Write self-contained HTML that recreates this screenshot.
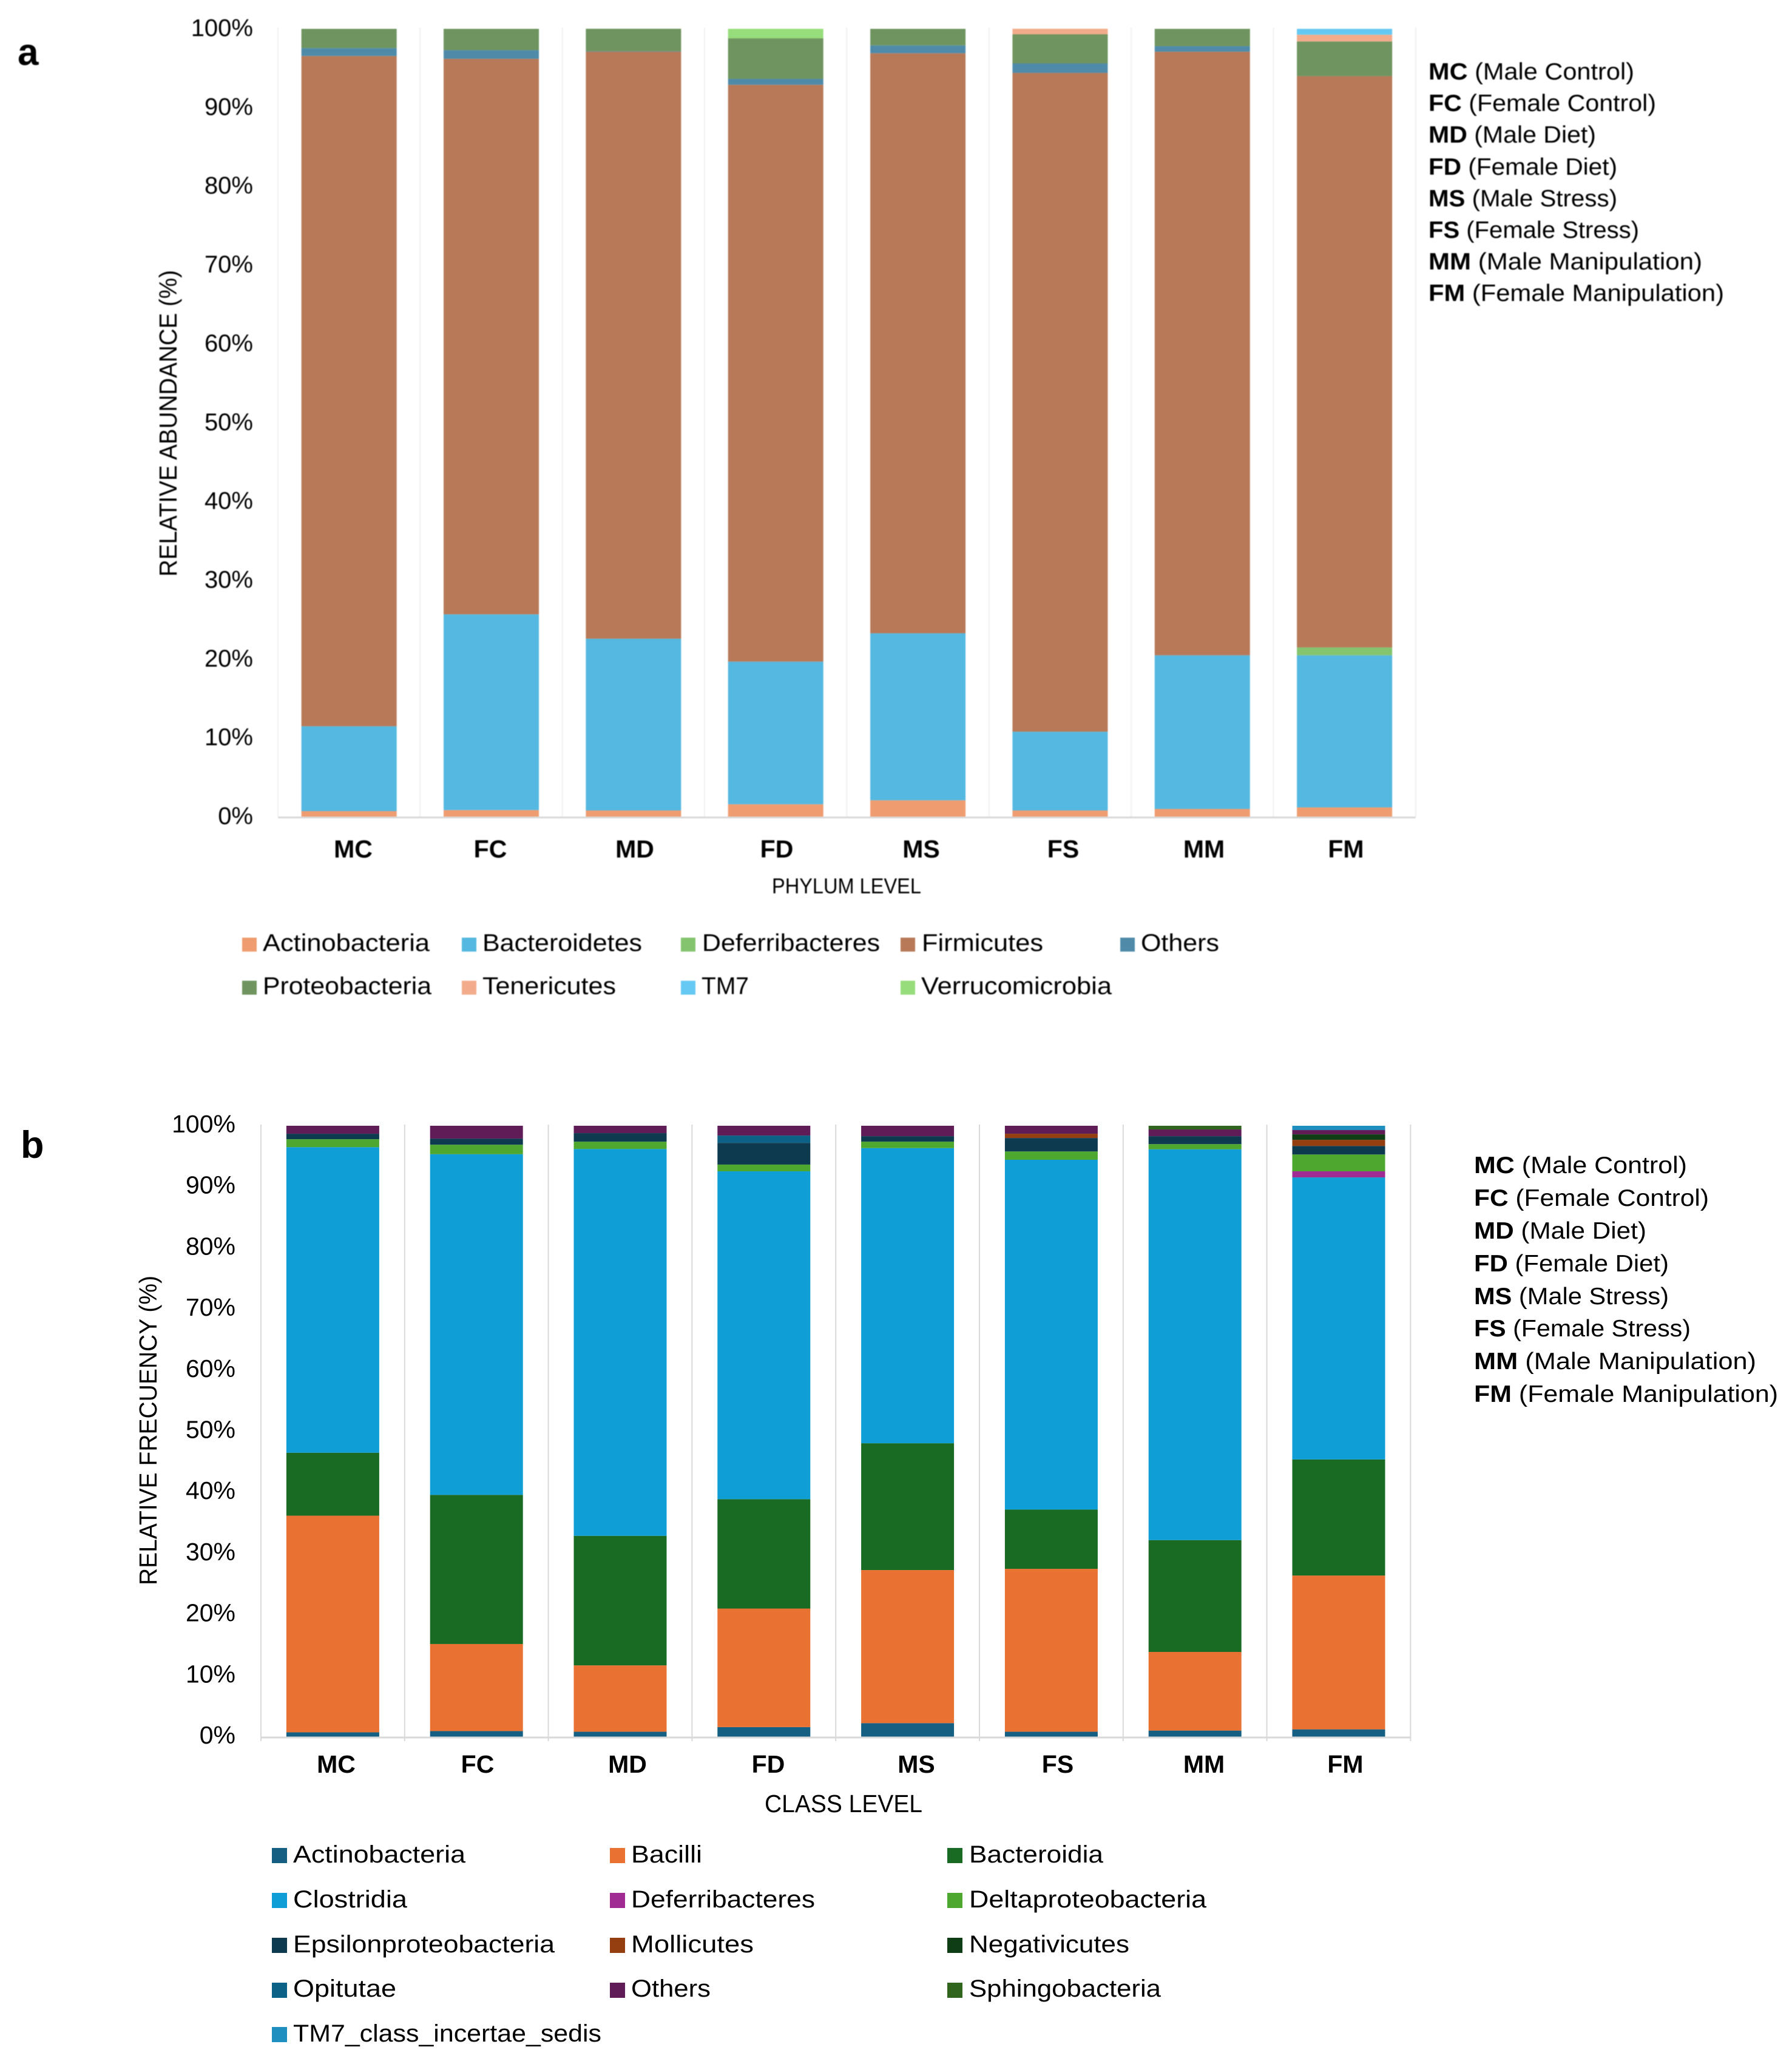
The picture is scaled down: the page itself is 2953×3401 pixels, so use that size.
<!DOCTYPE html>
<html lang="en">
<head>
<meta charset="utf-8">
<title>Relative abundance at phylum and class level</title>
<style>
html,body{margin:0;padding:0;background:#fff;}
svg{display:block;}
text{font-family:"Liberation Sans",sans-serif;fill:#000;}
.tick{font-size:40px;}
.cat{font-size:41px;font-weight:bold;}
.leg{font-size:40px;}
.key{font-size:39px;}
.key tspan{font-weight:bold;}
.soft{filter:blur(0.9px);}
</style>
</head>
<body>
<svg id="figure" xmlns="http://www.w3.org/2000/svg" width="2953" height="3401" viewBox="0 0 2953 3401">
<rect width="2953" height="3401" fill="#fff"/>

<g id="panelA" class="soft">
<text x="29" y="107" font-size="62" font-weight="bold">a</text>
<g id="plotA"></g>
<text transform="translate(291,950) rotate(-90)" font-size="41" textLength="505" lengthAdjust="spacingAndGlyphs">RELATIVE ABUNDANCE (%)</text>
<g>
<text class="cat" x="582" y="1413" text-anchor="middle">MC</text>
<text class="cat" x="808" y="1413" text-anchor="middle">FC</text>
<text class="cat" x="1046" y="1413" text-anchor="middle">MD</text>
<text class="cat" x="1280" y="1413" text-anchor="middle">FD</text>
<text class="cat" x="1518" y="1413" text-anchor="middle">MS</text>
<text class="cat" x="1752" y="1413" text-anchor="middle">FS</text>
<text class="cat" x="1984" y="1413" text-anchor="middle">MM</text>
<text class="cat" x="2218" y="1413" text-anchor="middle">FM</text>
</g>
<text x="1272" y="1472" font-size="35" textLength="246" lengthAdjust="spacingAndGlyphs">PHYLUM LEVEL</text>
<g>
<g><rect x="399" y="1545" width="24" height="23" fill="#ef9c70"/><text class="leg" x="433" y="1567" textLength="275" lengthAdjust="spacingAndGlyphs">Actinobacteria</text></g>
<g><rect x="761" y="1545" width="24" height="23" fill="#55b8e0"/><text class="leg" x="795" y="1567" textLength="263" lengthAdjust="spacingAndGlyphs">Bacteroidetes</text></g>
<g><rect x="1122" y="1545" width="24" height="23" fill="#84c46f"/><text class="leg" x="1157" y="1567" textLength="293" lengthAdjust="spacingAndGlyphs">Deferribacteres</text></g>
<g><rect x="1484" y="1545" width="24" height="23" fill="#b77958"/><text class="leg" x="1519" y="1567" textLength="200" lengthAdjust="spacingAndGlyphs">Firmicutes</text></g>
<g><rect x="1846" y="1545" width="24" height="23" fill="#4f8ba9"/><text class="leg" x="1880" y="1567" textLength="129" lengthAdjust="spacingAndGlyphs">Others</text></g>
<g><rect x="399" y="1616" width="24" height="23" fill="#6f9460"/><text class="leg" x="433" y="1638" textLength="278" lengthAdjust="spacingAndGlyphs">Proteobacteria</text></g>
<g><rect x="761" y="1616" width="24" height="23" fill="#f3ac8b"/><text class="leg" x="795" y="1638" textLength="220" lengthAdjust="spacingAndGlyphs">Tenericutes</text></g>
<g><rect x="1122" y="1616" width="24" height="23" fill="#66c9f3"/><text class="leg" x="1156" y="1638" textLength="78" lengthAdjust="spacingAndGlyphs">TM7</text></g>
<g><rect x="1484" y="1616" width="24" height="23" fill="#97dd7b"/><text class="leg" x="1518" y="1638" textLength="314" lengthAdjust="spacingAndGlyphs">Verrucomicrobia</text></g>
</g>
<g>
<text class="key" x="2354" y="131" textLength="339" lengthAdjust="spacingAndGlyphs"><tspan>MC</tspan> (Male Control)</text>
<text class="key" x="2354" y="183" textLength="375" lengthAdjust="spacingAndGlyphs"><tspan>FC</tspan> (Female Control)</text>
<text class="key" x="2354" y="235" textLength="276" lengthAdjust="spacingAndGlyphs"><tspan>MD</tspan> (Male Diet)</text>
<text class="key" x="2354" y="288" textLength="311" lengthAdjust="spacingAndGlyphs"><tspan>FD</tspan> (Female Diet)</text>
<text class="key" x="2354" y="340" textLength="311" lengthAdjust="spacingAndGlyphs"><tspan>MS</tspan> (Male Stress)</text>
<text class="key" x="2354" y="392" textLength="347" lengthAdjust="spacingAndGlyphs"><tspan>FS</tspan> (Female Stress)</text>
<text class="key" x="2354" y="444" textLength="451" lengthAdjust="spacingAndGlyphs"><tspan>MM</tspan> (Male Manipulation)</text>
<text class="key" x="2354" y="496" textLength="487" lengthAdjust="spacingAndGlyphs"><tspan>FM</tspan> (Female Manipulation)</text>
</g>
</g>

<g id="panelB">
<text x="34" y="1908" font-size="63" font-weight="bold">b</text>
<g id="plotB"></g>
<text transform="translate(258,2612) rotate(-90)" font-size="41" textLength="510" lengthAdjust="spacingAndGlyphs">RELATIVE FRECUENCY (%)</text>
<g>
<text class="cat" x="554" y="2921" text-anchor="middle">MC</text>
<text class="cat" x="787" y="2921" text-anchor="middle">FC</text>
<text class="cat" x="1034" y="2921" text-anchor="middle">MD</text>
<text class="cat" x="1266" y="2921" text-anchor="middle">FD</text>
<text class="cat" x="1510" y="2921" text-anchor="middle">MS</text>
<text class="cat" x="1743" y="2921" text-anchor="middle">FS</text>
<text class="cat" x="1984" y="2921" text-anchor="middle">MM</text>
<text class="cat" x="2217" y="2921" text-anchor="middle">FM</text>
</g>
<text x="1260" y="2986" font-size="41" textLength="260" lengthAdjust="spacingAndGlyphs">CLASS LEVEL</text>
<g>
<g><rect x="448" y="3045" width="25" height="25" fill="#156082"/><text class="leg" x="483" y="3069" textLength="284" lengthAdjust="spacingAndGlyphs">Actinobacteria</text></g>
<g><rect x="1005" y="3045" width="25" height="25" fill="#e97132"/><text class="leg" x="1040" y="3069" textLength="117" lengthAdjust="spacingAndGlyphs">Bacilli</text></g>
<g><rect x="1561" y="3045" width="25" height="25" fill="#196b24"/><text class="leg" x="1597" y="3069" textLength="221" lengthAdjust="spacingAndGlyphs">Bacteroidia</text></g>
<g><rect x="448" y="3119" width="25" height="25" fill="#0f9ed5"/><text class="leg" x="483" y="3143" textLength="188" lengthAdjust="spacingAndGlyphs">Clostridia</text></g>
<g><rect x="1005" y="3119" width="25" height="25" fill="#a02b93"/><text class="leg" x="1040" y="3143" textLength="303" lengthAdjust="spacingAndGlyphs">Deferribacteres</text></g>
<g><rect x="1561" y="3119" width="25" height="25" fill="#4ea72e"/><text class="leg" x="1597" y="3143" textLength="391" lengthAdjust="spacingAndGlyphs">Deltaproteobacteria</text></g>
<g><rect x="448" y="3193" width="25" height="25" fill="#0e3a50"/><text class="leg" x="483" y="3217" textLength="431" lengthAdjust="spacingAndGlyphs">Epsilonproteobacteria</text></g>
<g><rect x="1005" y="3193" width="25" height="25" fill="#953f10"/><text class="leg" x="1040" y="3217" textLength="202" lengthAdjust="spacingAndGlyphs">Mollicutes</text></g>
<g><rect x="1561" y="3193" width="25" height="25" fill="#0f3d15"/><text class="leg" x="1597" y="3217" textLength="264" lengthAdjust="spacingAndGlyphs">Negativicutes</text></g>
<g><rect x="448" y="3267" width="25" height="25" fill="#0b6186"/><text class="leg" x="483" y="3290" textLength="170" lengthAdjust="spacingAndGlyphs">Opitutae</text></g>
<g><rect x="1005" y="3267" width="25" height="25" fill="#5f1c57"/><text class="leg" x="1040" y="3290" textLength="131" lengthAdjust="spacingAndGlyphs">Others</text></g>
<g><rect x="1561" y="3267" width="25" height="25" fill="#2f651c"/><text class="leg" x="1597" y="3290" textLength="316" lengthAdjust="spacingAndGlyphs">Sphingobacteria</text></g>
<g><rect x="448" y="3340" width="25" height="25" fill="#1f8fc0"/><text class="leg" x="483" y="3364" textLength="508" lengthAdjust="spacingAndGlyphs">TM7_class_incertae_sedis</text></g>
</g>
<g>
<text class="key" x="2429" y="1933" textLength="351" lengthAdjust="spacingAndGlyphs"><tspan>MC</tspan> (Male Control)</text>
<text class="key" x="2429" y="1987" textLength="387" lengthAdjust="spacingAndGlyphs"><tspan>FC</tspan> (Female Control)</text>
<text class="key" x="2429" y="2041" textLength="284" lengthAdjust="spacingAndGlyphs"><tspan>MD</tspan> (Male Diet)</text>
<text class="key" x="2429" y="2095" textLength="321" lengthAdjust="spacingAndGlyphs"><tspan>FD</tspan> (Female Diet)</text>
<text class="key" x="2429" y="2149" textLength="321" lengthAdjust="spacingAndGlyphs"><tspan>MS</tspan> (Male Stress)</text>
<text class="key" x="2429" y="2202" textLength="357" lengthAdjust="spacingAndGlyphs"><tspan>FS</tspan> (Female Stress)</text>
<text class="key" x="2429" y="2256" textLength="465" lengthAdjust="spacingAndGlyphs"><tspan>MM</tspan> (Male Manipulation)</text>
<text class="key" x="2429" y="2310" textLength="501" lengthAdjust="spacingAndGlyphs"><tspan>FM</tspan> (Female Manipulation)</text>
</g>
</g>
</svg>

<script>
const groupCategories = ["MC", "FC", "MD", "FD", "MS", "FS", "MM", "FM"];
const tickValues = [0, 10, 20, 30, 40, 50, 60, 70, 80, 90, 100];
const tickLabels = ["0%", "10%", "20%", "30%", "40%", "50%", "60%", "70%", "80%", "90%", "100%"];

const phylumActinobacteria = [0.73, 0.86, 0.81, 1.6, 2.1, 0.81, 1.0, 1.2];
const phylumBacteroidetes = [10.77, 24.84, 21.8, 18.1, 21.2, 10.0, 19.5, 19.3];
const phylumDeferribacteres = [0, 0, 0, 0, 0, 0, 0, 1.0];
const phylumFirmicutes = [85.05, 70.5, 74.5, 73.2, 73.6, 83.6, 76.6, 72.5];
const phylumOthers = [1.0, 1.1, 0.05, 0.75, 1.0, 1.2, 0.7, 0];
const phylumProteobacteria = [2.45, 2.7, 2.85, 5.15, 2.1, 3.7, 2.2, 4.4];
const phylumTenericutes = [0, 0, 0, 0, 0, 0.7, 0, 0.85];
const phylumTM7 = [0, 0, 0, 0, 0, 0, 0, 0.75];
const phylumVerrucomicrobia = [0, 0, 0, 1.2, 0, 0, 0, 0];

const classActinobacteria = [0.75, 0.95, 0.84, 1.6, 2.25, 0.84, 1.03, 1.23];
const classBacilli = [35.45, 14.25, 10.86, 19.4, 25.05, 26.66, 12.87, 25.17];
const classBacteroidia = [10.3, 24.4, 21.2, 17.9, 20.75, 9.7, 18.3, 19.0];
const classClostridia = [50.0, 55.75, 63.3, 53.65, 48.3, 57.24, 63.95, 46.15];
const classDeferribacteres = [0, 0, 0, 0, 0, 0, 0, 1.0];
const classDeltaproteobacteria = [1.3, 1.55, 1.2, 1.1, 1.05, 1.36, 0.85, 2.75];
const classEpsilonproteobacteria = [0.9, 1.0, 1.4, 3.55, 0.9, 2.2, 1.3, 1.4];
const classMollicutes = [0, 0, 0, 0, 0, 0.7, 0, 1.0];
const classNegativicutes = [0, 0, 0, 0, 0, 0, 0, 0.9];
const classOpitutae = [0, 0, 0, 1.2, 0, 0, 0, 0];
const classOthers = [1.3, 2.1, 1.2, 1.6, 1.7, 1.3, 1.1, 0.7];
const classSphingobacteria = [0, 0, 0, 0, 0, 0, 0.6, 0];
const classTM7 = [0, 0, 0, 0, 0, 0, 0, 0.7];

const phylumSeries = [
  {name: "actinobacteria", values: phylumActinobacteria, color: "#ef9c70"},
  {name: "bacteroidetes", values: phylumBacteroidetes, color: "#55b8e0"},
  {name: "deferribacteres", values: phylumDeferribacteres, color: "#84c46f"},
  {name: "firmicutes", values: phylumFirmicutes, color: "#b77958"},
  {name: "others", values: phylumOthers, color: "#4f8ba9"},
  {name: "proteobacteria", values: phylumProteobacteria, color: "#6f9460"},
  {name: "tenericutes", values: phylumTenericutes, color: "#f3ac8b"},
  {name: "tm7", values: phylumTM7, color: "#66c9f3"},
  {name: "verrucomicrobia", values: phylumVerrucomicrobia, color: "#97dd7b"}
];
const classSeries = [
  {name: "actinobacteria", values: classActinobacteria, color: "#156082"},
  {name: "bacilli", values: classBacilli, color: "#e97132"},
  {name: "bacteroidia", values: classBacteroidia, color: "#196b24"},
  {name: "clostridia", values: classClostridia, color: "#0f9ed5"},
  {name: "deferribacteres", values: classDeferribacteres, color: "#a02b93"},
  {name: "deltaproteobacteria", values: classDeltaproteobacteria, color: "#4ea72e"},
  {name: "epsilonproteobacteria", values: classEpsilonproteobacteria, color: "#0e3a50"},
  {name: "mollicutes", values: classMollicutes, color: "#953f10"},
  {name: "negativicutes", values: classNegativicutes, color: "#0f3d15"},
  {name: "opitutae", values: classOpitutae, color: "#0b6186"},
  {name: "others", values: classOthers, color: "#5f1c57"},
  {name: "sphingobacteria", values: classSphingobacteria, color: "#2f651c"},
  {name: "tm7-class-incertae-sedis", values: classTM7, color: "#1f8fc0"}
];

const SVGNS = "http://www.w3.org/2000/svg";

function drawChart(host, series, cfg) {
  const yScale = function (v) { return cfg.base - v * (cfg.base - cfg.top) / 100; };
  const xBand = function (i) { return cfg.left + i * cfg.band; };

  for (let i = 0; i <= groupCategories.length; i++) {
    const grid = document.createElementNS(SVGNS, "line");
    grid.setAttribute("x1", xBand(i));
    grid.setAttribute("x2", xBand(i));
    grid.setAttribute("y1", cfg.top - 2);
    grid.setAttribute("y2", cfg.base + cfg.tickLen);
    grid.setAttribute("stroke", cfg.gridColor);
    grid.setAttribute("stroke-width", 2);
    
    
    host.appendChild(grid);
  }

  groupCategories.forEach(function (cat, i) {
    let cumulative = 0;
    const cx = xBand(i) + cfg.band / 2;
    series.forEach(function (s) {
      const v = s.values[i];
      if (v > 0) {
        const y0 = yScale(cumulative);
        const y1 = yScale(cumulative + v);
        const bar = document.createElementNS(SVGNS, "rect");
        bar.setAttribute("x", cx - cfg.barWidth / 2);
        bar.setAttribute("y", y1);
        bar.setAttribute("width", cfg.barWidth);
        bar.setAttribute("height", y0 - y1);
        bar.setAttribute("fill", s.color);
        
        
        host.appendChild(bar);
      }
      cumulative += v;
    });
  });

  const axis = document.createElementNS(SVGNS, "line");
  axis.setAttribute("x1", cfg.left);
  axis.setAttribute("x2", xBand(groupCategories.length));
  axis.setAttribute("y1", cfg.base + 1);
  axis.setAttribute("y2", cfg.base + 1);
  axis.setAttribute("stroke", "#d9d9d9");
  axis.setAttribute("stroke-width", 3);
  
  
  host.appendChild(axis);

  tickValues.forEach(function (v, i) {
    const label = document.createElementNS(SVGNS, "text");
    label.setAttribute("class", "tick");
    label.setAttribute("x", cfg.tickRight);
    label.setAttribute("y", yScale(v) + cfg.tickShift);
    label.setAttribute("text-anchor", "end");
    label.setAttribute("font-size", cfg.tickSize);
    label.style.fontSize = cfg.tickSize + "px";
    label.textContent = tickLabels[i];
    
    
    host.appendChild(label);
  });
}

drawChart(document.getElementById("plotA"), phylumSeries, {
  left: 458, band: 234.35, barWidth: 157, top: 47.5, base: 1346,
  tickLen: 0, gridColor: "#f0f0f0", tickRight: 417, tickShift: 12, tickSize: 40
});
drawChart(document.getElementById("plotB"), classSeries, {
  left: 430, band: 236.8, barWidth: 153, top: 1855, base: 2862,
  tickLen: 7, gridColor: "#d9d9d9", tickRight: 388, tickShift: 11, tickSize: 41
});
</script>
</body>
</html>
